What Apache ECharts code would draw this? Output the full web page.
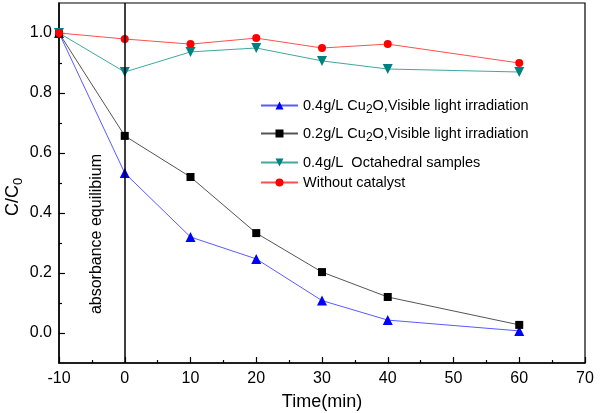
<!DOCTYPE html>
<html><head><meta charset="utf-8">
<script src="https://cdn.jsdelivr.net/npm/echarts@6/dist/echarts.min.js"></script>
<style>html,body{margin:0;padding:0;background:#fff}#c{width:600px;height:413px}</style>
</head><body><div id="c"></div>
<script>
const times = [-10, 0, 10, 20, 30, 40, 60];
const cu04 = [1.0, 0.533, 0.32, 0.247, 0.108, 0.043, 0.007];
const cu02 = [1.0, 0.657, 0.52, 0.333, 0.203, 0.12, 0.027];
const octa = [1.0, 0.87, 0.937, 0.95, 0.907, 0.88, 0.87];
const noCat = [1.0, 0.98, 0.963, 0.983, 0.95, 0.963, 0.9];
const legendLabels = {
  cu04: '0.4g/L Cu{sub|2}O,Visible light irradiation',
  cu02: '0.2g/L Cu{sub|2}O,Visible light irradiation',
  octa: '0.4g/L  Octahedral samples',
  none: 'Without catalyst'
};
const yMajor = [0, 0.2, 0.4, 0.6, 0.8, 1.0];
const yMinor = [0.1, 0.3, 0.5, 0.7, 0.9];
const annotation = 'absorbance equilibium';

const pairs = arr => times.map((t, i) => [t, arr[i]]);
const font = 'Liberation Sans, Arial, sans-serif';
const rich = { sub: { fontSize: 12, fontFamily: font, color: '#000', padding: [9, 0, 0, 0] } };

function mkLegend(name, top) {
  return {
    data: [name], left: 260, top: top, padding: 0, itemWidth: 37, itemHeight: 10, itemGap: 0,
    formatter: n => legendLabels[n],
    textStyle: { fontFamily: font, fontSize: 14.5, color: '#000', rich: rich },
    selectedMode: false
  };
}

const chart = echarts.init(document.getElementById('c'));
chart.setOption({
  animation: false,
  backgroundColor: '#fff',
  grid: { left: 59, right: 15, top: 3, bottom: 50, show: true, borderColor: '#000', borderWidth: 1.2,
    backgroundColor: 'transparent', containLabel: false, outerBoundsMode: 'none' },
  legend: [mkLegend('cu04', 98), mkLegend('cu02', 126), mkLegend('octa', 155), mkLegend('none', 175)],
  xAxis: {
    type: 'value', min: -10, max: 70, interval: 10,
    name: 'Time(min)', nameLocation: 'middle', nameGap: 30,
    nameTextStyle: { fontFamily: font, fontSize: 18, color: '#000' },
    axisLine: { onZero: false, lineStyle: { color: '#000', width: 1.5 } },
    axisTick: { inside: true, length: 6, lineStyle: { color: '#000', width: 1.2 } },
    minorTick: { show: true, splitNumber: 2, length: 3, lineStyle: { color: '#000', width: 1.2 } },
    axisLabel: { fontFamily: font, fontSize: 16, color: '#000', margin: 8 },
    splitLine: { show: false }
  },
  yAxis: [{
    type: 'value', min: -0.1, max: 1.1,
    name: 'C/C{sub|0}', nameLocation: 'middle', nameGap: 34, nameRotate: 90, nameMoveOverlap: false,
    nameTextStyle: { fontFamily: font, fontSize: 18, color: '#000', padding: [0, 28, 0, 0],
      rich: { sub: { fontSize: 13, fontFamily: font, color: '#000', padding: [10, 0, 0, 0] } } },
    axisLine: { onZero: false, lineStyle: { color: '#000', width: 1.5 } },
    axisTick: { inside: true, length: 6, customValues: yMajor, lineStyle: { color: '#000', width: 1.2 } },
    axisLabel: { fontFamily: font, fontSize: 16, color: '#000', margin: 7, customValues: yMajor, formatter: v => v.toFixed(1) },
    splitLine: { show: false }
  }, {
    type: 'value', min: -0.1, max: 1.1, position: 'left',
    axisLine: { show: false, onZero: false },
    axisTick: { show: true, inside: true, length: 3, customValues: yMinor, lineStyle: { color: '#000', width: 1.2 } },
    axisLabel: { show: false },
    splitLine: { show: false }
  }],
  graphic: [{
    type: 'text', left: 89, top: 154,
    style: { text: annotation, fontFamily: font, fontSize: 16, fill: '#000' },
    rotation: Math.PI / 2, originX: 0, originY: 0
  }],
  series: [
    { name: 'cu04', type: 'line', data: pairs(cu04), symbol: 'triangle', symbolSize: 10,
      itemStyle: { color: '#0000ff' }, lineStyle: { color: '#5a5aff', width: 1 },
      markLine: { silent: true, symbol: 'none', label: { show: false },
        lineStyle: { color: '#000', width: 1.5, type: 'solid' }, data: [{ xAxis: 0 }] } },
    { name: 'cu02', type: 'line', data: pairs(cu02), symbol: 'rect', symbolSize: 8,
      itemStyle: { color: '#000' }, lineStyle: { color: '#555', width: 1 } },
    { name: 'octa', type: 'line', data: pairs(octa), symbol: 'triangle', symbolRotate: 180, symbolSize: 10,
      itemStyle: { color: '#008080' }, lineStyle: { color: '#40a8a0', width: 1 } },
    { name: 'none', type: 'line', data: pairs(noCat), symbol: 'circle', symbolSize: 8,
      itemStyle: { color: '#ff0000' }, lineStyle: { color: '#ff5050', width: 1 } }
  ]
});
</script></body></html>
